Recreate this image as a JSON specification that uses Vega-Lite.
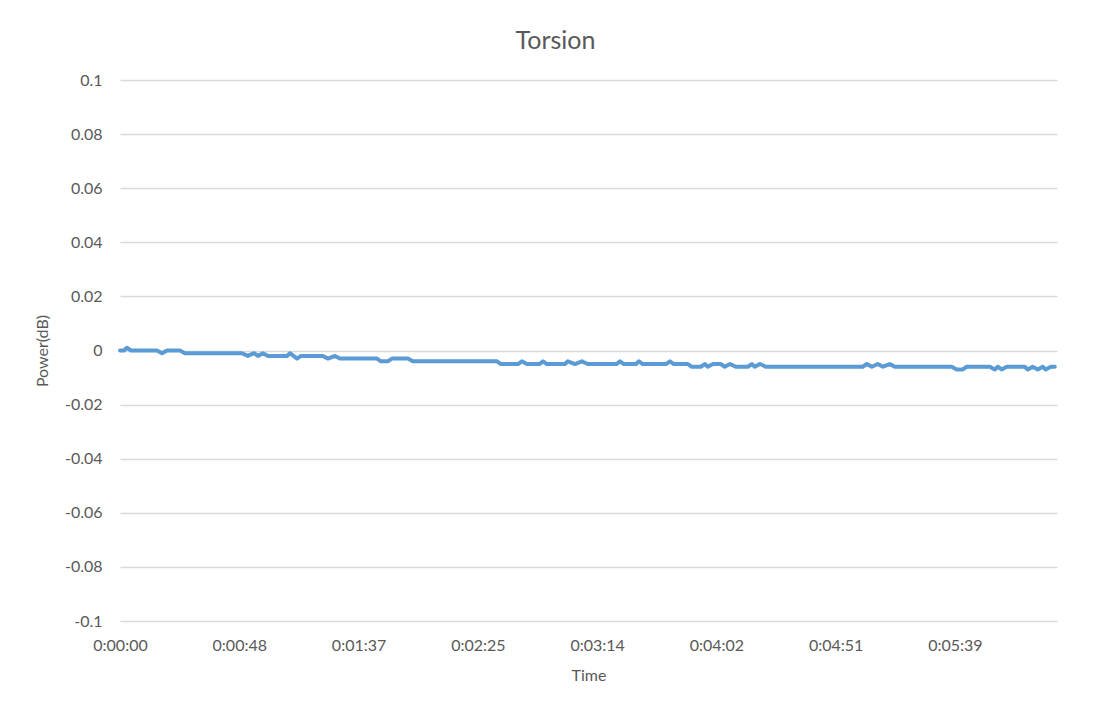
{
  "$schema": "https://vega.github.io/schema/vega-lite/v6.json",
  "autosize": {"type": "none"},
  "padding": {"left": 120, "top": 80, "right": 43, "bottom": 88},
  "width": 937,
  "height": 541,
  "background": "white",
  "title": {"text": "Torsion", "fontSize": 25, "font": "Lato", "fontWeight": "normal", "color": "#595959", "anchor": "middle", "dx": -33, "offset": 18},
  "data": {"values": [
    {"t": 0, "p": 0}, {"t": 1.6, "p": 0}, {"t": 2.8, "p": 0.001}, {"t": 4.5, "p": 0},
    {"t": 15.0, "p": 0}, {"t": 17.1, "p": -0.001}, {"t": 19.1, "p": 0}, {"t": 24.4, "p": 0},
    {"t": 26.4, "p": -0.001}, {"t": 49.6, "p": -0.001}, {"t": 52.0, "p": -0.002}, {"t": 54.5, "p": -0.001},
    {"t": 56.1, "p": -0.002}, {"t": 58.1, "p": -0.001}, {"t": 60.2, "p": -0.002}, {"t": 67.9, "p": -0.002},
    {"t": 69.1, "p": -0.001}, {"t": 72.0, "p": -0.003}, {"t": 73.6, "p": -0.002}, {"t": 82.5, "p": -0.002},
    {"t": 84.6, "p": -0.003}, {"t": 87.4, "p": -0.002}, {"t": 89.4, "p": -0.003}, {"t": 104.5, "p": -0.003},
    {"t": 106.1, "p": -0.004}, {"t": 108.9, "p": -0.004}, {"t": 110.6, "p": -0.003}, {"t": 117.1, "p": -0.003},
    {"t": 119.1, "p": -0.004}, {"t": 153.3, "p": -0.004}, {"t": 154.9, "p": -0.005}, {"t": 161.8, "p": -0.005},
    {"t": 163.4, "p": -0.004}, {"t": 165.4, "p": -0.005}, {"t": 170.7, "p": -0.005}, {"t": 172.0, "p": -0.004},
    {"t": 173.6, "p": -0.005}, {"t": 180.9, "p": -0.005}, {"t": 182.1, "p": -0.004}, {"t": 185.0, "p": -0.005},
    {"t": 187.8, "p": -0.004}, {"t": 190.2, "p": -0.005}, {"t": 202.0, "p": -0.005}, {"t": 203.3, "p": -0.004},
    {"t": 204.9, "p": -0.005}, {"t": 209.8, "p": -0.005}, {"t": 211.0, "p": -0.004}, {"t": 212.6, "p": -0.005},
    {"t": 222.0, "p": -0.005}, {"t": 223.6, "p": -0.004}, {"t": 225.2, "p": -0.005}, {"t": 230.9, "p": -0.005},
    {"t": 232.5, "p": -0.006}, {"t": 236.2, "p": -0.006}, {"t": 237.8, "p": -0.005}, {"t": 239.0, "p": -0.006},
    {"t": 241.1, "p": -0.005}, {"t": 244.3, "p": -0.005}, {"t": 245.9, "p": -0.006}, {"t": 248.0, "p": -0.005},
    {"t": 250.4, "p": -0.006}, {"t": 255.3, "p": -0.006}, {"t": 256.9, "p": -0.005}, {"t": 258.1, "p": -0.006},
    {"t": 260.2, "p": -0.005}, {"t": 262.6, "p": -0.006}, {"t": 302.0, "p": -0.006}, {"t": 303.7, "p": -0.005},
    {"t": 305.7, "p": -0.006}, {"t": 308.1, "p": -0.005}, {"t": 310.2, "p": -0.006}, {"t": 313.0, "p": -0.005},
    {"t": 315.0, "p": -0.006}, {"t": 338.2, "p": -0.006}, {"t": 340.2, "p": -0.007}, {"t": 342.7, "p": -0.007},
    {"t": 344.3, "p": -0.006}, {"t": 353.7, "p": -0.006}, {"t": 355.7, "p": -0.007}, {"t": 356.9, "p": -0.006},
    {"t": 358.5, "p": -0.007}, {"t": 360.6, "p": -0.006}, {"t": 367.9, "p": -0.006}, {"t": 369.1, "p": -0.007},
    {"t": 371.1, "p": -0.006}, {"t": 373.2, "p": -0.007}, {"t": 375.2, "p": -0.006}, {"t": 376.4, "p": -0.007},
    {"t": 378.5, "p": -0.006}, {"t": 380.1, "p": -0.006}
  ]},
  "mark": {"type": "line", "color": "#5B9BD5", "strokeWidth": 4, "strokeJoin": "round", "strokeCap": "round"},
  "encoding": {
    "x": {
      "field": "t", "type": "quantitative",
      "scale": {"domain": [0, 381], "nice": false, "zero": false},
      "axis": {
        "title": "Time",
        "values": [0, 48.5, 97, 145.5, 194, 242.5, 291, 339.5],
        "labelExpr": "utcFormat(datum.value * 1000, '%-H:%M:%S')",
        "labelFlush": false,
        "grid": false, "domain": false, "ticks": false,
        "labelPadding": 16, "titlePadding": 14
      }
    },
    "y": {
      "field": "p", "type": "quantitative",
      "scale": {"domain": [-0.1, 0.1], "nice": false},
      "axis": {
        "title": "Power(dB)",
        "values": [-0.1, -0.08, -0.06, -0.04, -0.02, 0, 0.02, 0.04, 0.06, 0.08, 0.1],
        "labelExpr": "'' + datum.value",
        "labelFlush": false,
        "grid": true, "domain": false, "ticks": false,
        "labelPadding": 18, "titlePadding": 14
      }
    }
  },
  "config": {
    "view": {"stroke": null},
    "axis": {
      "labelFont": "Lato", "titleFont": "Lato",
      "labelFontSize": 16, "titleFontSize": 16,
      "labelColor": "#595959", "titleColor": "#595959",
      "titleFontWeight": "normal",
      "gridColor": "#D9D9D9", "gridWidth": 1.3
    }
  }
}
